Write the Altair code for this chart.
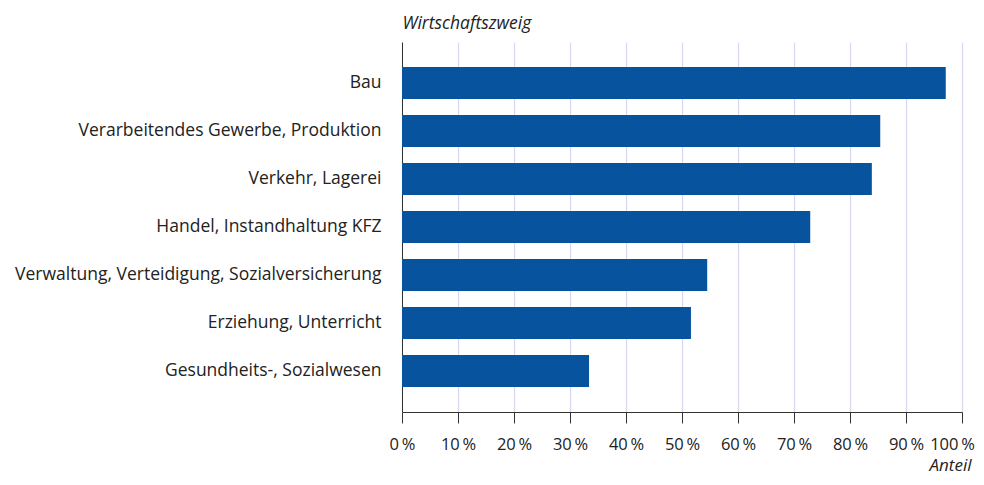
import altair as alt
import pandas as pd

categories = [
    "Bau",
    "Verarbeitendes Gewerbe, Produktion",
    "Verkehr, Lagerei",
    "Handel, Instandhaltung KFZ",
    "Verwaltung, Verteidigung, Sozialversicherung",
    "Erziehung, Unterricht",
    "Gesundheits-, Sozialwesen",
]
anteil = [97.1, 85.4, 83.9, 72.9, 54.5, 51.6, 33.4]

df = pd.DataFrame({"Wirtschaftszweig": categories, "Anteil": anteil})

FONT = "Open Sans"
TXT = "#222222"

chart = (
    alt.Chart(df)
    .mark_bar(color="#07539D")
    .encode(
        x=alt.X(
            "Anteil:Q",
            scale=alt.Scale(domain=[0, 100], nice=False),
            axis=alt.Axis(
                values=list(range(0, 101, 10)),
                labelExpr="datum.value + '\u2009%'",
                title="Anteil",
                titleX=569,
                titleY=58,
                titleAlign="right",
                titleBaseline="alphabetic",
                titleFontStyle="italic",
                titleFontWeight="normal",
                titleFontSize=17,
                titleFont=FONT,
                titleColor=TXT,
                labelFont=FONT,
                labelFontSize=16.5,
                labelColor=TXT,
                labelBaseline="alphabetic",
                labelPadding=26,
                labelOffset=alt.condition("datum.value == 100", alt.value(-10), alt.value(0)),
                tickSize=11,
                tickColor="#333333",
                domainColor="#333333",
                grid=True,
                gridColor="#d6d8f2",
                gridWidth=1.2,
                labelOverlap=False,
                labelFlush=False,
            ),
        ),
        y=alt.Y(
            "Wirtschaftszweig:N",
            sort=categories,
            scale=alt.Scale(paddingInner=1 / 3, paddingOuter=0.52),
            axis=alt.Axis(
                title="Wirtschaftszweig",
                titleAngle=0,
                titleX=0,
                titleY=-14,
                titleAlign="left",
                titleBaseline="alphabetic",
                titleFontStyle="italic",
                titleFontWeight="normal",
                titleFontSize=17.5,
                titleFont=FONT,
                titleColor=TXT,
                labelFont=FONT,
                labelFontSize=17.5,
                labelColor=TXT,
                labelPadding=21,
                labelLimit=500,
                ticks=False,
                domainColor="#333333",
                grid=False,
            ),
        ),
    )
    .properties(
        width=560,
        height=370,
        autosize=alt.AutoSizeParams(type="none"),
        padding={"left": 394, "top": 34, "right": 14, "bottom": 64},
    )
    .configure_view(stroke=None)
)

chart.save("out.html", embed_options={"renderer": "svg", "actions": False})
